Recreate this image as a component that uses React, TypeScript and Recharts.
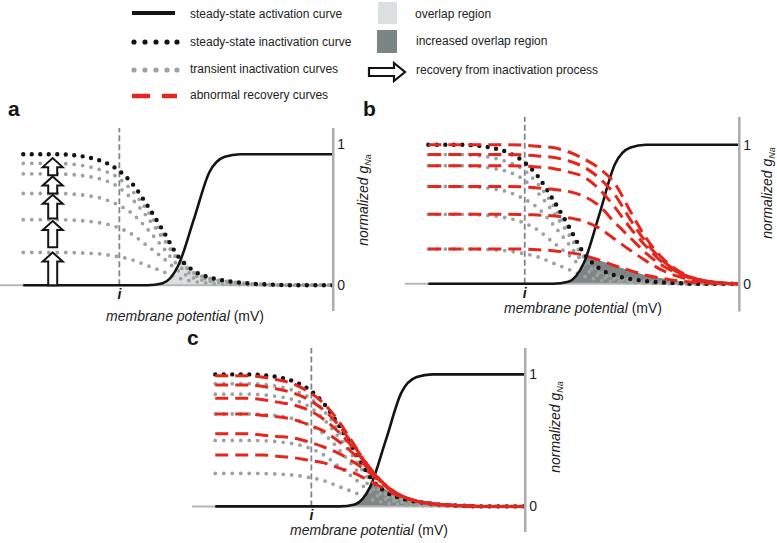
import React from 'react';
import { ComposedChart, Line, Area, Scatter, XAxis, YAxis, ReferenceLine } from 'recharts';

// membrane potential, arbitrary units (left = hyperpolarised)
const potential = [0, 5, 10, 15, 20, 25, 30, 35, 40, 45, 50, 55, 60, 65, 70, 75, 80, 85, 90, 95, 100];

const activation = [0, 0, 0, 0, 0, 0, 0, 0, 0, 0.015, 0.15, 0.5, 0.86, 0.98, 1, 1, 1, 1, 1, 1, 1];
const steadyInactivation = [1, 1, 1, 0.995, 0.98, 0.95, 0.89, 0.78, 0.61, 0.42, 0.22, 0.11, 0.06, 0.035, 0.02, 0.01, 0.005, 0, 0, 0, 0];

// transient inactivation curves (grey dots)
const transient93 = [0.93, 0.93, 0.93, 0.925, 0.91, 0.88, 0.83, 0.725, 0.57, 0.39, 0.205, 0.1, 0.056, 0.033, 0.019, 0.009, 0.005, 0, 0, 0, 0];
const transient85 = [0.85, 0.85, 0.85, 0.846, 0.833, 0.81, 0.76, 0.66, 0.52, 0.36, 0.19, 0.094, 0.051, 0.03, 0.017, 0.009, 0.004, 0, 0, 0, 0];
const transient70 = [0.7, 0.7, 0.7, 0.697, 0.686, 0.665, 0.62, 0.55, 0.43, 0.29, 0.15, 0.077, 0.042, 0.025, 0.014, 0.007, 0.004, 0, 0, 0, 0];
const transient50 = [0.5, 0.5, 0.5, 0.498, 0.49, 0.475, 0.445, 0.39, 0.3, 0.21, 0.11, 0.055, 0.03, 0.018, 0.01, 0.005, 0.003, 0, 0, 0, 0];
const transient25 = [0.25, 0.25, 0.25, 0.249, 0.245, 0.238, 0.22, 0.195, 0.15, 0.105, 0.055, 0.028, 0.015, 0.009, 0.005, 0.003, 0, 0, 0, 0, 0];

// abnormal recovery curves, panel b (shifted to depolarised side)
const shiftedB100 = [1, 1, 1, 1, 1, 1, 0.998, 0.99, 0.98, 0.95, 0.9, 0.83, 0.72, 0.52, 0.33, 0.19, 0.1, 0.045, 0.018, 0.005, 0];
const shiftedB93 = [0.93, 0.93, 0.93, 0.93, 0.93, 0.93, 0.928, 0.92, 0.91, 0.885, 0.84, 0.76, 0.64, 0.46, 0.3, 0.175, 0.09, 0.042, 0.017, 0.005, 0];
const shiftedB85 = [0.85, 0.85, 0.85, 0.85, 0.85, 0.85, 0.848, 0.84, 0.83, 0.805, 0.77, 0.68, 0.55, 0.4, 0.27, 0.16, 0.085, 0.04, 0.016, 0.005, 0];
const shiftedB70 = [0.7, 0.7, 0.7, 0.7, 0.7, 0.7, 0.698, 0.69, 0.68, 0.665, 0.63, 0.56, 0.44, 0.33, 0.22, 0.135, 0.075, 0.035, 0.014, 0.004, 0];
const shiftedB50 = [0.5, 0.5, 0.5, 0.5, 0.5, 0.5, 0.499, 0.495, 0.49, 0.475, 0.45, 0.4, 0.32, 0.24, 0.165, 0.1, 0.055, 0.026, 0.01, 0.003, 0];
const shiftedB25 = [0.25, 0.25, 0.25, 0.25, 0.25, 0.25, 0.25, 0.245, 0.238, 0.225, 0.205, 0.17, 0.13, 0.095, 0.062, 0.04, 0.022, 0.011, 0.005, 0.002, 0];

// abnormal recovery curves, panel c (faster recovery)
const fasterC99 = [0.99, 0.99, 0.99, 0.98, 0.96, 0.93, 0.87, 0.78, 0.64, 0.46, 0.28, 0.15, 0.08, 0.04, 0.02, 0.01, 0.005, 0, 0, 0, 0];
const fasterC92 = [0.92, 0.92, 0.92, 0.91, 0.89, 0.86, 0.81, 0.73, 0.61, 0.45, 0.29, 0.16, 0.08, 0.04, 0.02, 0.01, 0.005, 0, 0, 0, 0];
const fasterC82 = [0.82, 0.82, 0.82, 0.81, 0.79, 0.77, 0.73, 0.66, 0.56, 0.43, 0.28, 0.16, 0.08, 0.04, 0.02, 0.01, 0.005, 0, 0, 0, 0];
const fasterC70 = [0.7, 0.7, 0.7, 0.69, 0.68, 0.66, 0.62, 0.57, 0.49, 0.39, 0.27, 0.16, 0.08, 0.04, 0.02, 0.01, 0.005, 0, 0, 0, 0];
const fasterC55 = [0.55, 0.55, 0.55, 0.54, 0.53, 0.52, 0.49, 0.45, 0.4, 0.33, 0.25, 0.15, 0.08, 0.04, 0.02, 0.01, 0.005, 0, 0, 0, 0];
const fasterC39 = [0.39, 0.39, 0.39, 0.39, 0.38, 0.37, 0.35, 0.33, 0.29, 0.25, 0.19, 0.13, 0.07, 0.04, 0.02, 0.01, 0.005, 0, 0, 0, 0];

// overlap windows (shaded)
const overlapAx = [43, 45, 47.5, 50, 51.5, 53, 55, 60, 65, 70, 75, 80, 85];
const overlapAy = [0, 0.01, 0.05, 0.15, 0.2, 0.16, 0.11, 0.06, 0.035, 0.02, 0.01, 0.005, 0];
const overlapBx = [43, 45, 47.5, 50, 51, 55, 60, 65, 70, 75, 80, 85, 90, 95];
const overlapBy = [0, 0.01, 0.05, 0.15, 0.2, 0.17, 0.13, 0.095, 0.062, 0.04, 0.022, 0.011, 0.005, 0];
const overlapCx = [43, 45, 47.5, 50, 51, 55, 60, 65, 70, 75, 80];
const overlapCy = [0, 0.01, 0.05, 0.15, 0.18, 0.13, 0.07, 0.04, 0.02, 0.01, 0];

// recovery-from-inactivation arrows in panel a
const recoveryAt = 9.5;
const recoveryFrom = [0, 0.29, 0.51, 0.7, 0.84];
const recoveryTo = [0.25, 0.49, 0.69, 0.83, 0.97];

const holdingPotential = 31; // "i"
const yTicks = [0, 1];

const rows = potential.map((x, i) => ({
  x,
  act: activation[i],
  ss: steadyInactivation[i],
  t93: transient93[i],
  t85: transient85[i],
  t70: transient70[i],
  t50: transient50[i],
  t25: transient25[i],
  b100: shiftedB100[i],
  b93: shiftedB93[i],
  b85: shiftedB85[i],
  b70: shiftedB70[i],
  b50: shiftedB50[i],
  b25: shiftedB25[i],
  c99: fasterC99[i],
  c92: fasterC92[i],
  c82: fasterC82[i],
  c70: fasterC70[i],
  c55: fasterC55[i],
  c39: fasterC39[i],
}));

const toRows = (xs: number[], ys: number[]) => xs.map((x, i) => ({ x, v: ys[i] }));
const recoveryRows = recoveryFrom.map((from, i) => ({ x: recoveryAt, y: recoveryTo[i], from }));

const X_MIN = -7.5;
const X_MAX = 100;
const Y_MIN = -0.2;
const Y_MAX = 1.2;
const AXIS_W = 40;

const BLACK = '#141414';
const GREY_DOT = '#9ca2a1';
const RED = '#e4261d';
const AXIS_GREY = '#a9aead';
const FONT = "'Liberation Sans', Arial, sans-serif";

const transientKeys = ['t93', 't85', 't70', 't50', 't25'];

type PanelProps = {
  x0: number;
  baseline: number;
  unitPx: number;
  valPx: number;
  overlap: { x: number; v: number }[];
  overlapFill: string;
  redKeys?: string[];
  arrows?: boolean;
  oneDy?: number;
};

const Panel = ({ x0, baseline, unitPx, valPx, overlap, overlapFill, redKeys = [], arrows, oneDy = 0 }: PanelProps) => {
  const plotW = (X_MAX - X_MIN) * unitPx;
  const plotH = (Y_MAX - Y_MIN) * valPx;
  const left = x0 + X_MIN * unitPx;
  const top = baseline - Y_MAX * valPx;

  const arrowShape = (p: any) => {
    const { cx, cy, payload } = p;
    const base = cy + (payload.y - payload.from) * valPx;
    const hw = 10;
    const sw = 4.5;
    const hh = 9;
    const d = `M${cx},${cy} L${cx + hw},${cy + hh} L${cx + sw},${cy + hh} L${cx + sw},${base} L${cx - sw},${base} L${cx - sw},${cy + hh} L${cx - hw},${cy + hh} Z`;
    return <path d={d} fill="#fff" stroke={BLACK} strokeWidth={2} />;
  };

  return (
    <div style={{ position: 'absolute', left, top }}>
      <ComposedChart width={plotW + AXIS_W} height={plotH} data={rows} margin={{ top: 0, right: 0, bottom: 0, left: 0 }}>
        <XAxis type="number" dataKey="x" domain={[X_MIN, X_MAX]} allowDataOverflow hide />
        <YAxis
          orientation="right"
          type="number"
          domain={[Y_MIN, Y_MAX]}
          allowDataOverflow
          ticks={yTicks}
          width={AXIS_W}
          tickSize={0}
          tickMargin={4}
          tickLine={false}
          axisLine={{ stroke: AXIS_GREY, strokeWidth: 2.5 }}
          tick={(p: any) => (
            <text x={p.x} y={p.y + (p.payload.value === 1 ? oneDy : 0)} dy={5} fontSize={14} fill="#222" fontFamily={FONT} textAnchor="start">
              {p.payload.value}
            </text>
          )}
        />
        <ReferenceLine y={0} stroke="#b3b7b6" strokeWidth={2} />
        <ReferenceLine
          segment={[{ x: holdingPotential, y: 0 }, { x: holdingPotential, y: Y_MAX }]}
          stroke="#80868a"
          strokeWidth={1.8}
          strokeDasharray="6 3"
          label={{ value: 'i', position: 'bottom', offset: 4, fontSize: 14, fontWeight: 700, fontStyle: 'italic', fill: BLACK, fontFamily: FONT }}
        />
        <Area data={overlap} dataKey="v" type="monotone" baseValue={0} fill={overlapFill} fillOpacity={1} stroke="none" isAnimationActive={false} activeDot={false} />
        {transientKeys.map((k) => (
          <Line key={k} dataKey={k} type="monotone" stroke={GREY_DOT} strokeWidth={3.8} strokeDasharray="0 8.5" strokeLinecap="round" dot={false} activeDot={false} isAnimationActive={false} />
        ))}
        <Line dataKey="ss" type="monotone" stroke={BLACK} strokeWidth={4.4} strokeDasharray="0 8.5" strokeLinecap="round" dot={false} activeDot={false} isAnimationActive={false} />
        <Line dataKey="act" type="monotone" stroke={BLACK} strokeWidth={2.6} dot={false} activeDot={false} isAnimationActive={false} />
        {redKeys.map((k) => (
          <Line key={k} dataKey={k} type="monotone" stroke={RED} strokeWidth={3} strokeDasharray="13 7" dot={false} activeDot={false} isAnimationActive={false} />
        ))}
        {arrows && <Scatter data={recoveryRows} dataKey="y" shape={arrowShape} isAnimationActive={false} />}
      </ComposedChart>
    </div>
  );
};

const AxisTitle = ({ x, y }: { x: number; y: number }) => (
  <div style={{ position: 'absolute', left: x, top: y, transform: 'translate(-50%, -50%)', whiteSpace: 'nowrap', fontSize: 14, lineHeight: '15px', color: '#222' }}>
    <i>membrane potential</i> (mV)
  </div>
);

const GTitle = ({ x, y }: { x: number; y: number }) => (
  <div style={{ position: 'absolute', left: x, top: y, transform: 'translate(-50%, -50%) rotate(-90deg)', whiteSpace: 'nowrap', fontSize: 14, color: '#222', fontStyle: 'italic' }}>
    normalized g<span style={{ fontSize: 9, position: 'relative', top: 3 }}>Na</span>
  </div>
);

const Legend = () => (
  <svg width={777} height={120} style={{ position: 'absolute', left: 0, top: 0 }} fontFamily={FONT}>
    <line x1={132} x2={175} y1={13} y2={13} stroke={BLACK} strokeWidth={4} />
    {[134, 145, 156, 167, 177].map((cx) => (
      <circle key={'k' + cx} cx={cx} cy={42} r={2.6} fill={BLACK} />
    ))}
    {[134, 145, 156, 167, 177].map((cx) => (
      <circle key={'g' + cx} cx={cx} cy={70} r={2.6} fill={GREY_DOT} />
    ))}
    <line x1={132} x2={150} y1={96} y2={96} stroke={RED} strokeWidth={4.5} />
    <line x1={162} x2={177} y1={96} y2={96} stroke={RED} strokeWidth={4.5} />
    <g fontSize={12} fill="#222">
      <text x={190} y={18}>steady-state activation curve</text>
      <text x={190} y={46}>steady-state inactivation curve</text>
      <text x={190} y={73}>transient inactivation curves</text>
      <text x={190} y={99}>abnormal recovery curves</text>
      <text x={415} y={18}>overlap region</text>
      <text x={416} y={45}>increased overlap region</text>
      <text x={416} y={74}>recovery from inactivation process</text>
    </g>
    <rect x={378} y={2} width={19} height={22} fill="#dcdfdf" />
    <rect x={377} y={30} width={20} height={23} fill="#7b8583" />
    <path d="M369,68 L394,68 L394,63 L405,72 L394,81 L394,76 L369,76 Z" fill="#fff" stroke={BLACK} strokeWidth={2.2} />
    <g fontSize={21} fontWeight={700} fill={BLACK}>
      <text x={8} y={116}>a</text>
      <text x={363} y={116}>b</text>
    </g>
  </svg>
);

const App = () => (
  <div style={{ position: 'absolute', left: 0, top: 0, width: 777, height: 543, background: '#fff', fontFamily: FONT, overflow: 'hidden' }}>
    <Legend />
    <Panel x0={23.25} baseline={285} unitPx={3.1} valPx={131} overlap={toRows(overlapAx, overlapAy)} overlapFill="#dadede" arrows oneDy={-10} />
    <Panel
      x0={428}
      baseline={284}
      unitPx={3.11}
      valPx={139}
      overlap={toRows(overlapBx, overlapBy)}
      overlapFill="#7e8785"
      redKeys={['b100', 'b93', 'b85', 'b70', 'b50', 'b25']}
    />
    <Panel
      x0={215}
      baseline={506}
      unitPx={3.1}
      valPx={132}
      overlap={toRows(overlapCx, overlapCy)}
      overlapFill="#7e8785"
      redKeys={['c99', 'c92', 'c82', 'c70', 'c55', 'c39']}
    />
    <div style={{ position: 'absolute', left: 187, top: 326, fontSize: 21, fontWeight: 700, color: BLACK }}>c</div>
    <AxisTitle x={185} y={316} />
    <AxisTitle x={583} y={308} />
    <AxisTitle x={369} y={530} />
    <GTitle x={363} y={200} />
    <GTitle x={767} y={193} />
    <GTitle x={555} y={427} />
  </div>
);

export default App;
